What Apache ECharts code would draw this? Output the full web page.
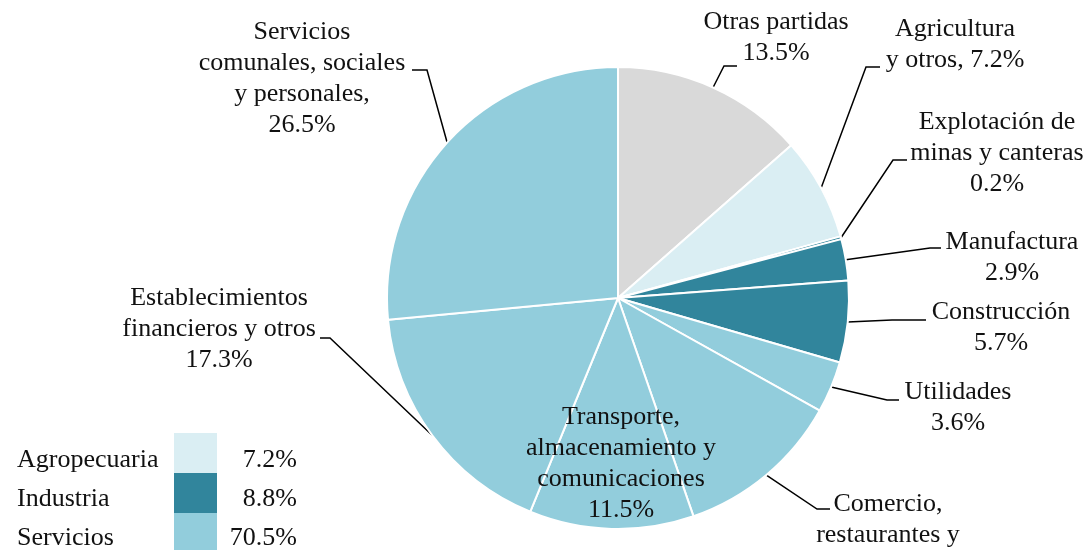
<!DOCTYPE html>
<html>
<head>
<meta charset="utf-8">
<script src="https://cdn.jsdelivr.net/npm/echarts/dist/echarts.min.js"></script>
<style>
  html, body { margin: 0; padding: 0; background: #fff; }
  #chart { width: 1088px; height: 550px; }
</style>
</head>
<body>
<div id="chart"></div>
<script>
// datos: participación por sector (%)
const sectors = ['Otras partidas', 'Agricultura y otros', 'Explotación de minas y canteras', 'Manufactura', 'Construcción', 'Utilidades', 'Comercio, restaurantes y hoteles', 'Transporte, almacenamiento y comunicaciones', 'Establecimientos financieros y otros', 'Servicios comunales, sociales y personales']
const shares = [13.5, 7.2, 0.2, 2.9, 5.7, 3.6, 11.6, 11.5, 17.3, 26.5]
const sectorGroup = ['otras', 'agro', 'ind', 'ind', 'ind', 'serv', 'serv', 'serv', 'serv', 'serv']
// texto de las etiquetas (con saltos de línea), el valor se agrega al final
const labelNames = ['Otras partidas\n', 'Agricultura\ny otros, ', 'Explotación de\nminas y canteras\n', 'Manufactura\n', 'Construcción\n', 'Utilidades\n', 'Comercio,\nrestaurantes y\nhoteles\n', 'Transporte,\nalmacenamiento y\ncomunicaciones\n', 'Establecimientos\nfinancieros y otros\n', 'Servicios\ncomunales, sociales\ny personales,\n']

// leyenda por gran sector
const groupKeys = ['agro', 'ind', 'serv']
const groupNames = ['Agropecuaria', 'Industria', 'Servicios']
const groupShares = [7.2, 8.8, 70.5]

const colors = { otras: '#d9d9d9', agro: '#daeef3', ind: '#31859c', serv: '#92cddc' }
const FONT = '"Liberation Serif", "Times New Roman", serif'

// posición de las etiquetas (centro) y de las líneas guía [codoX, codoY, finX]
const labelPos = [[776, 38], [955, 45], [997, 153], [1012, 258], [1001, 328], [958, 408], [888, 551], [621, 464], [219, 329], [302, 79]]
const leaders = [[724, 66, 737], [866, 67, 880], [893, 160, 907], [930, 248, 941], [892, 320, 926], [887, 400, 899], [817, 509, 830], null, [330, 338, 320], [427, 70, 412]]

const chart = echarts.init(document.getElementById('chart'))

const pieData = sectors.map((name, i) => ({
  name,
  value: shares[i],
  itemStyle: { color: colors[sectorGroup[i]] },
  labelLine: { show: leaders[i] !== null }
}))

// leyenda dibujada con graphic
const legendGraphics = []
groupNames.forEach((name, i) => {
  legendGraphics.push({
    type: 'rect',
    shape: { x: 174, y: 433 + i * 40, width: 43, height: 40 },
    style: { fill: colors[groupKeys[i]] }
  })
  legendGraphics.push({
    type: 'text',
    style: { x: 17, y: 460 + i * 39, text: name, font: '26px ' + FONT, fill: '#111', textVerticalAlign: 'middle' }
  })
  legendGraphics.push({
    type: 'text',
    style: { x: 297, y: 460 + i * 39, text: groupShares[i].toFixed(1) + '%', font: '26px ' + FONT, fill: '#111', textAlign: 'right', textVerticalAlign: 'middle' }
  })
})

chart.setOption({
  animation: false,
  backgroundColor: '#fff',
  graphic: legendGraphics,
  series: [{
    type: 'pie',
    center: [618, 298],
    radius: 231,
    startAngle: 90,
    clockwise: true,
    avoidLabelOverlap: false,
    itemStyle: { borderColor: '#fff', borderWidth: 2 },
    label: {
      show: true,
      position: 'outside',
      fontFamily: FONT,
      fontSize: 26,
      lineHeight: 31,
      color: '#111',
      align: 'center',
      formatter: (p) => labelNames[p.dataIndex] + p.value.toFixed(1) + '%'
    },
    labelLine: { show: true, lineStyle: { color: '#000', width: 1.5 } },
    labelLayout: (params) => {
      const i = params.dataIndex
      const out = { x: labelPos[i][0], y: labelPos[i][1], align: 'center', verticalAlign: 'middle' }
      const l = leaders[i]
      if (l && params.labelLinePoints) {
        out.labelLinePoints = [params.labelLinePoints[0], [l[0], l[1]], [l[2], l[1]]]
      }
      return out
    },
    emphasis: { disabled: true },
    data: pieData
  }]
})
</script>
</body>
</html>
